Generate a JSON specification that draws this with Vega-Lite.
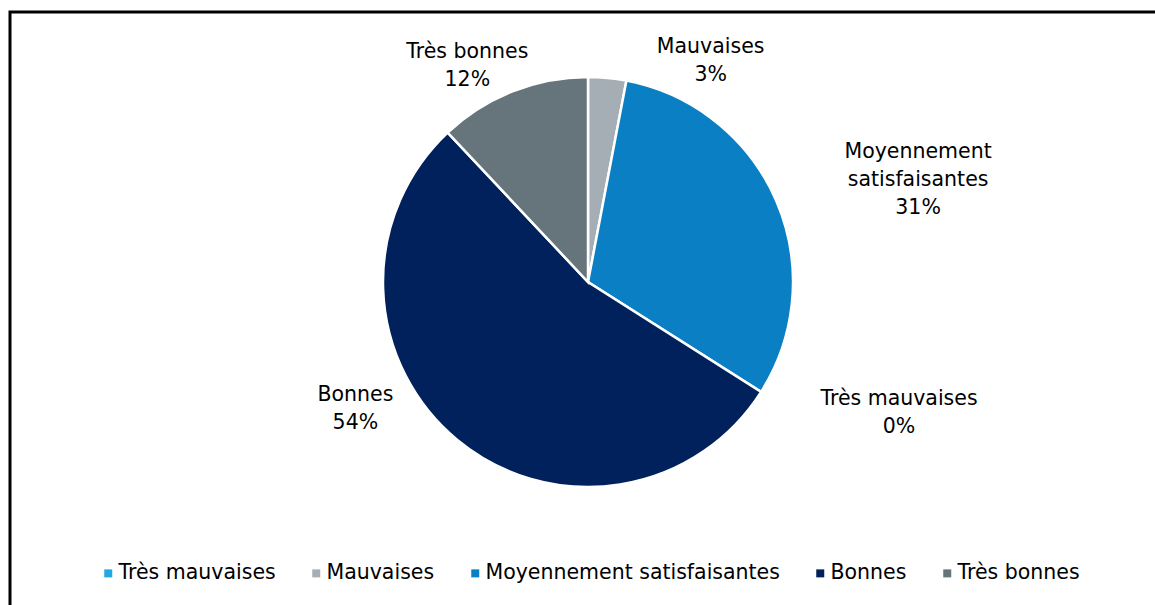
{
  "$schema": "https://vega.github.io/schema/vega-lite/v6.json",
  "width": 1155,
  "height": 605,
  "autosize": {"type": "fit", "contains": "padding"},
  "padding": {"left": 10, "top": 12, "right": 0, "bottom": 0},
  "background": "white",
  "view": {"stroke": "black", "strokeWidth": 3, "strokeDash": [1145, 1738, 593, 10]},
  "config": {
    "view": {"stroke": "black", "strokeWidth": 3, "strokeDash": [1145, 1738, 593, 10]},
    "font": "DejaVu Sans"
  },
  "data": {
    "values": [
      {"cat": "Très mauvaises", "pct": 0, "k": 1},
      {"cat": "Mauvaises", "pct": 3, "k": 2},
      {"cat": "Moyennement satisfaisantes", "pct": 31, "k": 3},
      {"cat": "Bonnes", "pct": 54, "k": 4},
      {"cat": "Très bonnes", "pct": 12, "k": 5}
    ]
  },
  "transform": [
    {"calculate": "datum.cat == 'Moyennement satisfaisantes' ? ['Moyennement', 'satisfaisantes', datum.pct + '%'] : [datum.cat, datum.pct + '%']", "as": "lbl"}
  ],
  "encoding": {
    "theta": {"field": "pct", "type": "quantitative", "stack": true},
    "order": {"field": "k", "type": "quantitative"}
  },
  "layer": [
    {
      "mark": {"type": "arc", "outerRadius": 205, "stroke": "white", "strokeWidth": 2.5, "x": {"expr": "width/2+5.5"}, "y": {"expr": "height/2-26.5"}},
      "encoding": {
        "color": {
          "field": "cat",
          "type": "nominal",
          "scale": {
            "domain": ["Très mauvaises", "Mauvaises", "Moyennement satisfaisantes", "Bonnes", "Très bonnes"],
            "range": ["#22A9E1", "#A5AEB4", "#0B7FC3", "#00215B", "#66747C"]
          },
          "legend": {
            "orient": "none",
            "direction": "horizontal",
            "legendX": 88,
            "legendY": 551,
            "title": null,
            "symbolType": "square",
            "symbolSize": 64,
            "symbolStrokeWidth": 0,
            "labelFontSize": 20.5,
            "labelColor": "black",
            "labelLimit": 400,
            "labelOffset": 0,
            "columnPadding": 30
          }
        }
      }
    },
    {
      "mark": {
        "type": "text",
        "radius": 230,
        "x": {"expr": "width/2+5.5"},
        "y": {"expr": "height/2-26.5"},
        "fontSize": 20.5,
        "lineHeight": 28,
        "color": "black",
        "align": "center",
        "baseline": "middle",
        "dx": {"expr": "datum.cat=='Très mauvaises'?311:datum.cat=='Mauvaises'?101:datum.cat=='Moyennement satisfaisantes'?119:datum.cat=='Bonnes'?-86:-36"},
        "dy": {"expr": "datum.cat=='Très mauvaises'?347:datum.cat=='Mauvaises'?-6:datum.cat=='Moyennement satisfaisantes'?-39:datum.cat=='Bonnes'?-64:-16"}
      },
      "encoding": {"text": {"field": "lbl"}}
    }
  ]
}
